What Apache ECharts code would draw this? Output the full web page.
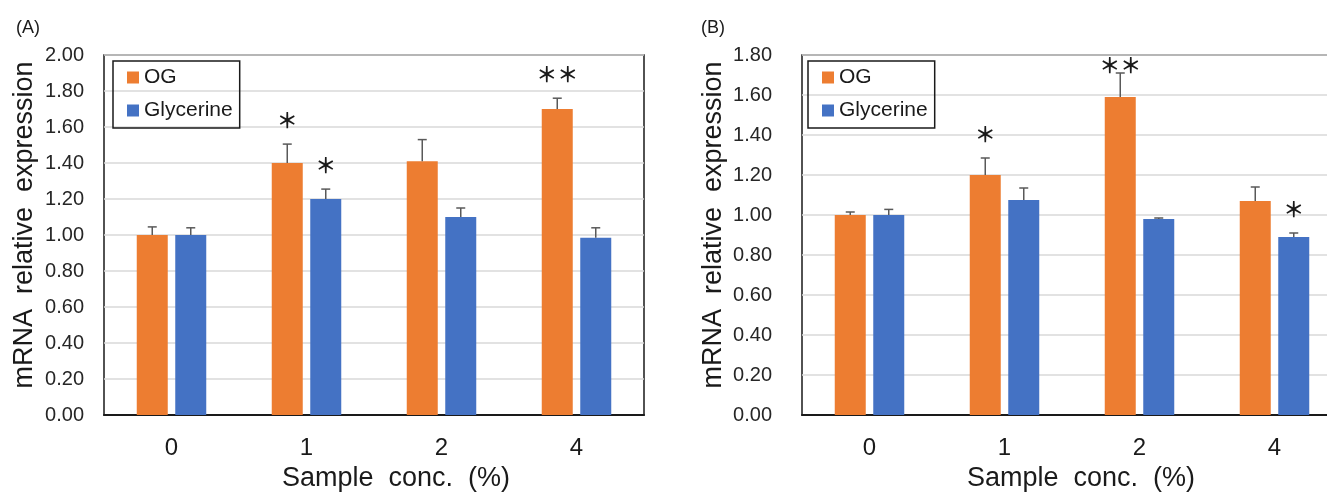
<!DOCTYPE html>
<html>
<head>
<meta charset="utf-8">
<script src="https://cdn.jsdelivr.net/npm/echarts@6/dist/echarts.min.js"></script>
<style>
html,body{margin:0;padding:0;background:#fff;}
#chart{width:1327px;height:495px;}
</style>
</head>
<body>
<div id="chart"></div>
<script>
// ---- data ----
const categories = ['0', '1', '2', '4'];
const seriesNames = ['OG', 'Glycerine'];

const A_OG = [1.00, 1.40, 1.41, 1.70];
const A_OG_err = [0.045, 0.105, 0.12, 0.06];
const A_Gly = [1.00, 1.20, 1.10, 0.985];
const A_Gly_err = [0.04, 0.055, 0.05, 0.055];
const A_OG_sig = ['', '*', '', '**'];
const A_Gly_sig = ['', '*', '', ''];

const B_OG = [1.00, 1.20, 1.59, 1.07];
const B_OG_err = [0.015, 0.085, 0.12, 0.07];
const B_Gly = [1.00, 1.075, 0.98, 0.89];
const B_Gly_err = [0.028, 0.06, 0.005, 0.02];
const B_OG_sig = ['', '*', '**', ''];
const B_Gly_sig = ['', '', '', '*'];

const yMaxA = 2.0, yMaxB = 1.8, yStep = 0.2;
const panelLabels = ['(A)', '(B)'];
const xTitle = 'Sample  conc.  (%)';
const yTitle = 'mRNA  relative  expression';

// ---- style ----
const FONT = '"Liberation Sans", Arial, sans-serif';
const ORANGE = '#ED7D31', BLUE = '#4472C4';
const BAR_W = 31, GAP_PX = 7.5;
const BAR_OFF = (BAR_W + GAP_PX) / 2;
const GRID_TOP = 55;

const chart = echarts.init(document.getElementById('chart'));

function barSeries(name, data, idx, color) {
  return {
    type: 'bar', name: name, data: data,
    xAxisIndex: idx, yAxisIndex: idx,
    barWidth: BAR_W, barGap: (GAP_PX / BAR_W * 100) + '%',
    itemStyle: { color: color },
    silent: true, z: 2
  };
}

function errSeries(name, vals, errs, sigs, sign, idx) {
  return {
    type: 'custom', name: name,
    xAxisIndex: idx, yAxisIndex: idx,
    silent: true, z: 5,
    data: vals.map((v, i) => [i, v, errs[i]]),
    renderItem: function (params, api) {
      const i = params.dataIndex;
      const base = api.coord([i, vals[i]]);
      const top = api.coord([i, vals[i] + errs[i]]);
      const x = base[0] + sign * BAR_OFF;
      const children = [
        { type: 'line', shape: { x1: x, y1: base[1], x2: x, y2: top[1] },
          style: { stroke: '#595959', lineWidth: 1.5 } },
        { type: 'line', shape: { x1: x - 4.5, y1: top[1], x2: x + 4.5, y2: top[1] },
          style: { stroke: '#595959', lineWidth: 1.5 } }
      ];
      if (sigs[i]) {
        const sy = Math.max(top[1] - 24, GRID_TOP + 10);
        children.push({
          type: 'text', x: x, y: sy,
          style: { text: sigs[i].replace(/\*/g, '＊'), fill: '#1a1a1a',
            fontSize: 21, fontFamily: '"Noto Sans CJK JP"', fontWeight: 'bold',
            align: 'center', verticalAlign: 'middle' }
        });
      }
      return { type: 'group', children: children };
    }
  };
}

function xAxisCfg(idx, shift) {
  return {
    type: 'category', gridIndex: idx, data: categories,
    axisTick: { show: false },
    axisLine: { lineStyle: { color: '#1a1a1a', width: 2 } },
    axisLabel: { fontSize: 24, color: '#1a1a1a', fontFamily: FONT, margin: 21 },
    name: xTitle, nameLocation: 'middle', nameGap: 43,
    nameTextStyle: { fontSize: 27, color: '#1a1a1a', fontFamily: FONT, padding: [0, 0, 0, shift * 2] }
  };
}

function yAxisCfg(idx, max, gap, labelMargin) {
  return {
    type: 'value', gridIndex: idx, min: 0, max: max, interval: yStep,
    axisLine: { show: false }, axisTick: { show: false },
    splitLine: { lineStyle: { color: '#D9D9D9', width: 1.5 } },
    axisLabel: { fontSize: 20, color: '#262626', fontFamily: FONT, margin: labelMargin,
      formatter: v => v.toFixed(2) },
    name: yTitle, nameLocation: 'middle', nameGap: gap,
    nameTextStyle: { fontSize: 27, color: '#1a1a1a', fontFamily: FONT, padding: [0, 0, 0, 20] }
  };
}

function legendCfg(left) {
  return {
    left: left, top: 61, orient: 'vertical',
    data: seriesNames, icon: 'rect', itemWidth: 12, itemHeight: 12, itemGap: 12,
    padding: [6, 7, 7, 14], borderColor: '#1a1a1a', borderWidth: 1.5,
    selectedMode: false,
    textStyle: { fontSize: 21, color: '#1a1a1a', fontFamily: FONT }
  };
}

const option = {
  animation: false,
  backgroundColor: '#fff',
  color: [ORANGE, BLUE],
  title: [
    { text: panelLabels[0], left: 11, top: 14, textStyle: { fontSize: 18, fontWeight: 'normal', color: '#1a1a1a', fontFamily: FONT } },
    { text: panelLabels[1], left: 696, top: 14, textStyle: { fontSize: 18, fontWeight: 'normal', color: '#1a1a1a', fontFamily: FONT } }
  ],
  legend: [legendCfg(113), legendCfg(808)],
  grid: [
    { left: 104, width: 540, top: GRID_TOP, bottom: 80, show: true, borderColor: '#1a1a1a', borderWidth: 1.5, backgroundColor: 'transparent', outerBoundsMode: 'none', containLabel: false },
    { left: 802, width: 540, top: GRID_TOP, bottom: 80, show: true, borderColor: '#1a1a1a', borderWidth: 1.5, backgroundColor: 'transparent', outerBoundsMode: 'none', containLabel: false }
  ],
  xAxis: [xAxisCfg(0, 22), xAxisCfg(1, 9)],
  yAxis: [yAxisCfg(0, yMaxA, 66, 20), yAxisCfg(1, yMaxB, 75, 30)],
  series: [
    barSeries('OG', A_OG, 0, ORANGE),
    barSeries('Glycerine', A_Gly, 0, BLUE),
    barSeries('OG', B_OG, 1, ORANGE),
    barSeries('Glycerine', B_Gly, 1, BLUE),
    errSeries('OG', A_OG, A_OG_err, A_OG_sig, -1, 0),
    errSeries('Glycerine', A_Gly, A_Gly_err, A_Gly_sig, 1, 0),
    errSeries('OG', B_OG, B_OG_err, B_OG_sig, -1, 1),
    errSeries('Glycerine', B_Gly, B_Gly_err, B_Gly_sig, 1, 1)
  ]
};
chart.setOption(option);
</script>
</body>
</html>
